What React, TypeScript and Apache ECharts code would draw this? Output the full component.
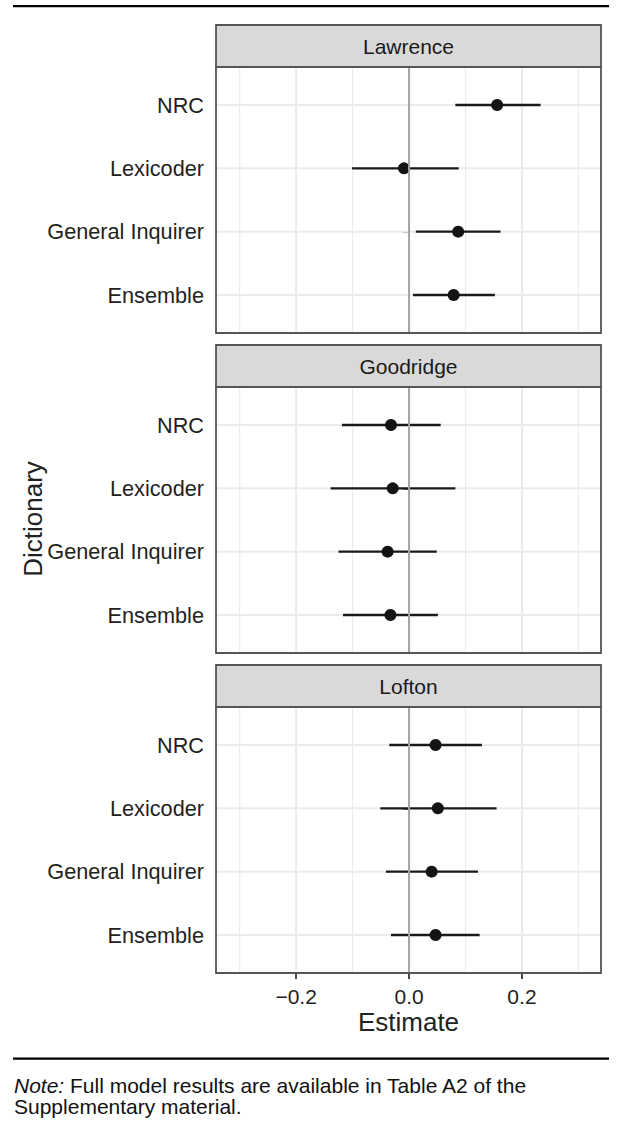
import React, { useEffect, useRef } from 'react';
import * as echarts from 'echarts';

// ---- data ----
const panels = ['Lawrence', 'Goodridge', 'Lofton'];
const categories = ['NRC', 'Lexicoder', 'General Inquirer', 'Ensemble'];

const lawrenceEst = [0.156, -0.009, 0.087, 0.079];
const lawrenceLo = [0.082, -0.101, 0.012, 0.007];
const lawrenceHi = [0.233, 0.088, 0.162, 0.152];

const goodridgeEst = [-0.032, -0.029, -0.038, -0.033];
const goodridgeLo = [-0.119, -0.139, -0.125, -0.117];
const goodridgeHi = [0.056, 0.082, 0.049, 0.051];

const loftonEst = [0.047, 0.051, 0.040, 0.047];
const loftonLo = [-0.035, -0.051, -0.041, -0.032];
const loftonHi = [0.129, 0.155, 0.122, 0.125];

const xTicks = [-0.2, 0, 0.2];
const xMajorGrid = [-0.2, 0.2];
const xMinorGrid = [-0.3, -0.1, 0.1, 0.3];
const zeroLine = [0];

const estimates = [lawrenceEst, goodridgeEst, loftonEst];
const lows = [lawrenceLo, goodridgeLo, loftonLo];
const highs = [lawrenceHi, goodridgeHi, loftonHi];

// ---- layout / style ----
const FONT = '"Liberation Sans", Arial, Helvetica, sans-serif';
const X_MIN = -0.342;
const X_MAX = 0.34;
const Y_MIN = 0.4;
const Y_MAX = 4.6;
const GRID_LEFT = 216;
const GRID_W = 385;
const GRID_H = 266;
const STRIP_H = 42;
const panelTops = [67, 387, 707];
const BORDER = '#555555';
const TEXT = '#222222';

const yPositions = categories.map((_, k) => k + 1);

const fmtX = (v: number) => {
  if (Math.abs(v) < 1e-9) return '0.0';
  return (v < 0 ? '\u2212' : '') + Math.abs(v).toFixed(1);
};

function vLineSeries(i: number, values: number[], color: string, width: number, z: number) {
  return {
    type: 'custom',
    xAxisIndex: i,
    yAxisIndex: i,
    z,
    silent: true,
    encode: { x: 0, y: 1 },
    data: values.map((v) => [v, Y_MIN]),
    renderItem: (_p: any, api: any) => {
      const x = api.value(0);
      const a = api.coord([x, Y_MIN]);
      const b = api.coord([x, Y_MAX]);
      return {
        type: 'line',
        shape: { x1: a[0], y1: a[1], x2: b[0], y2: b[1] },
        style: { stroke: color, lineWidth: width },
      };
    },
  };
}

function hLineSeries(i: number) {
  return {
    type: 'custom',
    xAxisIndex: i,
    yAxisIndex: i,
    z: 1,
    silent: true,
    encode: { x: 0, y: 1 },
    data: yPositions.map((y) => [X_MIN, y]),
    renderItem: (_p: any, api: any) => {
      const y = api.value(1);
      const a = api.coord([X_MIN, y]);
      const b = api.coord([X_MAX, y]);
      return {
        type: 'line',
        shape: { x1: a[0], y1: a[1], x2: b[0], y2: b[1] },
        style: { stroke: '#ebebeb', lineWidth: 2 },
      };
    },
  };
}

function errorSeries(i: number) {
  return {
    type: 'custom',
    xAxisIndex: i,
    yAxisIndex: i,
    z: 2,
    silent: true,
    encode: { x: 0, y: 1 },
    data: estimates[i].map((e, k) => [e, yPositions[k], lows[i][k], highs[i][k]]),
    renderItem: (_p: any, api: any) => {
      const y = api.value(1);
      const a = api.coord([api.value(2), y]);
      const b = api.coord([api.value(3), y]);
      return {
        type: 'line',
        shape: { x1: a[0], y1: a[1], x2: b[0], y2: b[1] },
        style: { stroke: '#1a1a1a', lineWidth: 2.3 },
      };
    },
  };
}

function pointSeries(i: number) {
  return {
    type: 'scatter',
    xAxisIndex: i,
    yAxisIndex: i,
    z: 3,
    silent: true,
    symbol: 'circle',
    symbolSize: 12,
    itemStyle: { color: '#141414', opacity: 1 },
    data: estimates[i].map((e, k) => [e, yPositions[k]]),
  };
}

function buildOption() {
  const grid = panelTops.map((t) => ({
    left: GRID_LEFT,
    top: t,
    width: GRID_W,
    height: GRID_H,
    show: false,
    containLabel: false,
    outerBoundsMode: 'none',
  }));

  const last = panels.length - 1;
  const tickStyle = { color: '#333333', width: 1.8 };

  const xAxis = panels.map((_, i) => ({
    type: 'value',
    gridIndex: i,
    min: X_MIN,
    max: X_MAX,
    splitLine: { show: false },
    axisLine: { show: false },
    axisTick: { show: i === last, customValues: xTicks, length: 6, lineStyle: tickStyle },
    axisLabel: {
      show: i === last,
      customValues: xTicks,
      formatter: fmtX,
      margin: 13,
      fontSize: 21,
      color: TEXT,
      fontFamily: FONT,
    },
    name: i === last ? 'Estimate' : '',
    nameLocation: 'middle',
    nameGap: 36,
    nameTextStyle: { fontSize: 26, color: TEXT, fontFamily: FONT },
  }));

  const yAxis = panels.map((_, i) => ({
    type: 'value',
    gridIndex: i,
    inverse: true,
    min: Y_MIN,
    max: Y_MAX,
    splitLine: { show: false },
    axisLine: { show: false },
    axisTick: { show: true, customValues: yPositions, length: 6, lineStyle: tickStyle },
    axisLabel: {
      customValues: yPositions,
      formatter: (v: number) => categories[Math.round(v) - 1] ?? '',
      margin: 12,
      fontSize: 21.7,
      color: TEXT,
      fontFamily: FONT,
    },
  }));

  const series: any[] = [];
  panels.forEach((_, i) => {
    series.push(vLineSeries(i, xMinorGrid, '#ebebeb', 1.1, 1));
    series.push(vLineSeries(i, xMajorGrid, '#ebebeb', 2, 1));
    series.push(hLineSeries(i));
    series.push(errorSeries(i));
    series.push(pointSeries(i));
    series.push(vLineSeries(i, zeroLine, '#a3a3a3', 2, 4));
  });

  const graphic: any[] = [];
  panels.forEach((name, i) => {
    const top = panelTops[i];
    graphic.push({
      type: 'rect',
      z: 100,
      silent: true,
      shape: { x: GRID_LEFT, y: top - STRIP_H, width: GRID_W, height: STRIP_H },
      style: { fill: '#d9d9d9', stroke: BORDER, lineWidth: 1.8 },
    });
    graphic.push({
      type: 'text',
      z: 101,
      silent: true,
      x: GRID_LEFT + GRID_W / 2,
      y: top - STRIP_H / 2,
      style: {
        text: name,
        fontSize: 21,
        fontFamily: FONT,
        fill: '#1a1a1a',
        align: 'center',
        verticalAlign: 'middle',
      },
    });
    graphic.push({
      type: 'rect',
      z: 100,
      silent: true,
      shape: { x: GRID_LEFT, y: top, width: GRID_W, height: GRID_H },
      style: { fill: 'none', stroke: BORDER, lineWidth: 1.8 },
    });
  });

  // y-axis title
  graphic.push({
    type: 'text',
    z: 100,
    silent: true,
    x: 33,
    y: 519,
    rotation: Math.PI / 2,
    style: {
      text: 'Dictionary',
      fontSize: 26,
      fontFamily: FONT,
      fill: TEXT,
      align: 'center',
      verticalAlign: 'middle',
    },
  });

  // rules
  graphic.push({
    type: 'rect',
    z: 100,
    silent: true,
    shape: { x: 13, y: 5, width: 596, height: 2.3 },
    style: { fill: '#000' },
  });
  graphic.push({
    type: 'rect',
    z: 100,
    silent: true,
    shape: { x: 13, y: 1057.5, width: 596, height: 2.3 },
    style: { fill: '#000' },
  });

  // note
  graphic.push({
    type: 'text',
    z: 100,
    silent: true,
    x: 14,
    y: 1074.5,
    style: {
      text: '{i|Note:} Full model results are available in Table A2 of the',
      fontSize: 21,
      fontFamily: FONT,
      fill: '#111',
      align: 'left',
      verticalAlign: 'top',
      rich: {
        i: { fontStyle: 'italic', fontSize: 21, fontFamily: FONT, fill: '#111' },
      },
    },
  });
  graphic.push({
    type: 'text',
    z: 100,
    silent: true,
    x: 14,
    y: 1095.5,
    style: {
      text: 'Supplementary material.',
      fontSize: 21,
      fontFamily: FONT,
      fill: '#111',
      align: 'left',
      verticalAlign: 'top',
    },
  });

  return {
    animation: false,
    backgroundColor: '#ffffff',
    grid,
    xAxis,
    yAxis,
    series,
    graphic,
  };
}

export default function App() {
  const ref = useRef<HTMLDivElement>(null);
  useEffect(() => {
    if (!ref.current) return;
    const chart = echarts.init(ref.current, null, { renderer: 'svg' });
    chart.setOption(buildOption() as any);
    return () => {
      chart.dispose();
    };
  }, []);
  return (
    <div
      ref={ref}
      style={{ position: 'absolute', left: 0, top: 0, width: 620, height: 1126, background: '#fff' }}
    />
  );
}
